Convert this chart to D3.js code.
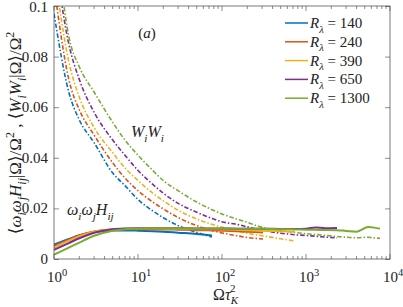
<!DOCTYPE html>
<html>
<head>
<meta charset="utf-8">
<script src="https://cdn.jsdelivr.net/npm/d3@7"></script>
<style>
  body { margin: 0; background: white; }
  svg { display: block; }
  text { font-family: "Liberation Serif", "Times New Roman", "DejaVu Serif", serif; fill: #222; }
</style>
</head>
<body>
<svg id="chart" width="403" height="307"></svg>
<script>

// Reynolds numbers shown in the legend
var rLambda = ['140', '240', '390', '650', '1300'];
var colors  = ['#0072BD', '#D95319', '#EDB120', '#7E2F8E', '#77AC30'];

// Omega tau_K^2 sample points, one array per R_lambda
var x140  = [1, 1.5, 2, 3, 5, 7, 10, 15, 20, 30, 50, 76];
var x240  = [1, 1.5, 2, 3, 5, 7, 10, 15, 20, 30, 50, 76, 100, 150, 200, 308];
var x390  = [1, 1.5, 2, 3, 5, 7, 10, 15, 20, 30, 50, 76, 100, 150, 200, 300, 500, 740];
var x650  = [1, 1.5, 2, 3, 5, 7, 10, 15, 20, 30, 50, 76, 100, 150, 200, 300, 500, 740, 1000, 1300, 1700, 2340];
var x1300 = [1, 1.5, 2, 3, 5, 7, 10, 15, 20, 30, 50, 76, 100, 150, 200, 300, 500, 740, 1000, 1500, 2340, 3000, 4000, 5500, 6500, 7600];

// <W_i W_i | Omega> / Omega^2  (dash-dot)
var wiwi140  = [0.097, 0.066, 0.055, 0.046, 0.034, 0.029, 0.0235, 0.019, 0.0163, 0.0132, 0.0105, 0.0087];
var wiwi240  = [0.108, 0.071, 0.059, 0.049, 0.038, 0.032, 0.027, 0.0225, 0.0198, 0.0164, 0.0132, 0.0113, 0.0103, 0.0092, 0.0085, 0.0079];
var wiwi390  = [0.115, 0.078, 0.064, 0.052, 0.042, 0.036, 0.031, 0.026, 0.023, 0.0193, 0.0158, 0.0137, 0.0125, 0.0111, 0.0102, 0.0092, 0.0080, 0.0071];
var wiwi650  = [0.122, 0.085, 0.071, 0.058, 0.047, 0.041, 0.035, 0.0295, 0.026, 0.022, 0.0185, 0.016, 0.0147, 0.0137, 0.0127, 0.0114, 0.0102, 0.0096, 0.0093, 0.0090, 0.0087, 0.0083];
var wiwi1300 = [0.135, 0.088, 0.076, 0.066, 0.054, 0.047, 0.041, 0.035, 0.031, 0.027, 0.0225, 0.0195, 0.0178, 0.0158, 0.0145, 0.0125, 0.0112, 0.0105, 0.0100, 0.0095, 0.0089, 0.0086, 0.0084, 0.0086, 0.0083, 0.0082];

// <omega_i omega_j H_ij | Omega> / Omega^2  (solid)
var hij140  = [0.0057, 0.0079, 0.0094, 0.0107, 0.0113, 0.0113, 0.0112, 0.0110, 0.0108, 0.0104, 0.0099, 0.0093];
var hij240  = [0.0050, 0.0076, 0.0093, 0.0109, 0.0117, 0.0118, 0.0118, 0.0117, 0.0117, 0.0116, 0.0114, 0.0113, 0.0112, 0.0110, 0.0108, 0.0105];
var hij390  = [0.0045, 0.0072, 0.0090, 0.0108, 0.0118, 0.0120, 0.0120, 0.0120, 0.0119, 0.0119, 0.0118, 0.0118, 0.0117, 0.0116, 0.0114, 0.0112, 0.0110, 0.0108];
var hij650  = [0.0036, 0.0063, 0.0082, 0.0104, 0.0118, 0.0121, 0.0122, 0.0122, 0.0122, 0.0122, 0.0121, 0.0121, 0.0121, 0.0120, 0.0120, 0.0120, 0.0119, 0.0119, 0.0120, 0.0125, 0.0122, 0.0123];
var hij1300 = [0.0017, 0.0045, 0.0065, 0.0092, 0.0112, 0.0118, 0.0121, 0.0122, 0.0122, 0.0122, 0.0121, 0.0121, 0.0121, 0.0120, 0.0120, 0.0120, 0.0118, 0.0117, 0.0116, 0.0115, 0.0114, 0.0111, 0.0108, 0.0126, 0.0124, 0.0120];

var yTicks = [0, 0.02, 0.04, 0.06, 0.08, 0.1];
var yTickLabels = ['0', '0.02', '0.04', '0.06', '0.08', '0.1'];
var xMajor = [1, 10, 100, 1000, 10000];

var xs    = [x140, x240, x390, x650, x1300];
var wiwis = [wiwi140, wiwi240, wiwi390, wiwi650, wiwi1300];
var hijs  = [hij140, hij240, hij390, hij650, hij1300];

var margin = {top: 6, right: 13, bottom: 48, left: 54};
var w = 403 - margin.left - margin.right;
var h = 307 - margin.top - margin.bottom;
var axisColor = '#404040';

var svg = d3.select('#chart')
    .append('g')
    .attr('transform', 'translate(' + margin.left + ',' + margin.top + ')');

var xScale = d3.scaleLog().domain([1, 10000]).range([0, w]);
var yScale = d3.scaleLinear().domain([0, 0.1]).range([h, 0]);

// write a little bit of math: italic letters, sub and superscripts
function addMath(sel, parts, size) {
    var cur = 0;
    parts.forEach(function(p) {
        var shift = p.s == -1 ? size * 0.3 : (p.s == 1 ? -size * 0.4 : 0);
        var ts = sel.append('tspan').attr('dy', shift - cur).text(p.t);
        cur = shift;
        if (p.i) ts.attr('font-style', 'italic');
        if (p.s) ts.attr('font-size', size * 0.7);
    });
}

svg.append('clipPath')
   .attr('id', 'plot-area')
   .append('rect')
   .attr('width', w)
   .attr('height', h);

// minor ticks for log axis
var xMinor = [];
for (var e = 0; e < 4; e++) {
    for (var k = 2; k < 10; k++) xMinor.push(k * Math.pow(10, e));
}

function drawXTicks(g, vals, len, dir) {
    g.selectAll(null)
     .data(vals)
     .enter().append('line')
     .attr('x1', function(d) { return xScale(d); })
     .attr('x2', function(d) { return xScale(d); })
     .attr('y1', 0)
     .attr('y2', dir * len)
     .attr('stroke', axisColor)
     .attr('stroke-width', 0.6);
}

var bottomTicks = svg.append('g').attr('transform', 'translate(0,' + h + ')');
drawXTicks(bottomTicks, xMajor, 5, -1);
drawXTicks(bottomTicks, xMinor, 3, -1);
var topTicks = svg.append('g');
drawXTicks(topTicks, xMajor, 5, 1);
drawXTicks(topTicks, xMinor, 3, 1);

// y axes, ticks pointing inward
var yAxisL = d3.axisLeft(yScale).tickValues(yTicks).tickSize(-5).tickFormat('');
var yAxisR = d3.axisRight(yScale).tickValues(yTicks).tickSize(-5).tickFormat('');
svg.append('g').attr('class', 'y axis').call(yAxisL);
svg.append('g').attr('class', 'y axis').attr('transform', 'translate(' + w + ',0)').call(yAxisR);
svg.selectAll('.y.axis .domain').remove();
svg.selectAll('.y.axis line').attr('stroke', axisColor).attr('stroke-width', 0.6);

// y tick labels
svg.append('g')
   .selectAll('text')
   .data(yTicks)
   .enter().append('text')
   .attr('x', -6)
   .attr('y', function(d) { return Math.max(yScale(d) + 5, 6); })
   .attr('text-anchor', 'end')
   .attr('font-size', '15px')
   .text(function(d, i) { return yTickLabels[i]; });

// x tick labels 10^n
svg.append('g')
   .selectAll('text')
   .data(xMajor)
   .enter().append('text')
   .attr('x', function(d) { return xScale(d) + 3; })
   .attr('y', h + 23)
   .attr('text-anchor', 'middle')
   .attr('font-size', '15px')
   .each(function(d) {
       addMath(d3.select(this), [{t: '10'}, {t: String(Math.round(Math.log10(d))), s: 1}], 15);
   });

// curves
var line = d3.line()
    .x(function(d) { return xScale(d[0]); })
    .y(function(d) { return yScale(d[1]); })
    .curve(d3.curveMonotoneX);

var curves = svg.append('g').attr('clip-path', 'url(#plot-area)');

rLambda.forEach(function(r, i) {
    var wPts = xs[i].map(function(x, j) { return [x, wiwis[i][j]]; });
    curves.append('path')
          .datum(wPts)
          .attr('d', line)
          .attr('fill', 'none')
          .attr('stroke', colors[i])
          .attr('stroke-width', 1.6)
          .attr('stroke-dasharray', '4.5,2,1.5,2');
});

rLambda.forEach(function(r, i) {
    var hPts = xs[i].map(function(x, j) { return [x, hijs[i][j]]; });
    curves.append('path')
          .datum(hPts)
          .attr('d', line)
          .attr('fill', 'none')
          .attr('stroke', colors[i])
          .attr('stroke-width', 2);
});

// frame
svg.append('rect')
   .attr('width', w)
   .attr('height', h)
   .attr('fill', 'none')
   .attr('stroke', axisColor)
   .attr('stroke-width', 0.7);

// legend
var legend = svg.append('g')
    .attr('transform', 'translate(' + (285 - margin.left) + ',' + (23 - margin.top) + ')');

rLambda.forEach(function(r, i) {
    var row = legend.append('g').attr('transform', 'translate(0,' + (i * 18.8) + ')');
    row.append('line')
       .attr('x1', 0).attr('x2', 23)
       .attr('stroke', colors[i])
       .attr('stroke-width', 1.5);
    var t = row.append('text')
       .attr('x', 25)
       .attr('y', 5)
       .attr('font-size', '15px');
    addMath(t, [{t: 'R', i: true}, {t: 'λ', i: true, s: -1}, {t: ' = ' + r}], 15);
});

// annotations
var aLab = svg.append('text')
   .attr('x', 147 - margin.left)
   .attr('y', 38 - margin.top)
   .attr('text-anchor', 'middle')
   .attr('font-size', '15px');
aLab.append('tspan').text('(');
aLab.append('tspan').attr('font-style', 'italic').text('a');
aLab.append('tspan').text(')');

var wLab = svg.append('text')
   .attr('x', 131 - margin.left)
   .attr('y', 137 - margin.top)
   .attr('font-size', '16px');
addMath(wLab, [{t: 'W', i: true}, {t: 'i', i: true, s: -1}, {t: 'W', i: true}, {t: 'i', i: true, s: -1}], 16);

var hLab = svg.append('text')
   .attr('x', 67 - margin.left)
   .attr('y', 215 - margin.top)
   .attr('font-size', '16px');
addMath(hLab, [{t: 'ω', i: true}, {t: 'i', i: true, s: -1}, {t: 'ω', i: true}, {t: 'j', i: true, s: -1},
               {t: 'H', i: true}, {t: 'ij', i: true, s: -1}], 16);

// x axis label: Omega tau_K^2
var xLab = svg.append('text')
   .attr('x', 213 - margin.left)
   .attr('y', h + 41)
   .attr('font-size', '16px');
xLab.append('tspan').text('Ω');
xLab.append('tspan').attr('font-style', 'italic').text('τ');
xLab.append('tspan').attr('font-style', 'italic').attr('font-size', 11).attr('dy', 4).text('K');
xLab.append('tspan').attr('font-size', 11).attr('dx', -8).attr('dy', -12).text('2');

// y axis label
var yLab = svg.append('text')
   .attr('transform', 'translate(' + (21 - margin.left) + ',' + (133 - margin.top) + ') rotate(-90)')
   .attr('text-anchor', 'middle')
   .attr('font-size', '17px');
addMath(yLab, [{t: '⟨'}, {t: 'ω', i: true}, {t: 'i', i: true, s: -1}, {t: 'ω', i: true}, {t: 'j', i: true, s: -1},
               {t: 'H', i: true}, {t: 'ij', i: true, s: -1}, {t: '|Ω⟩/Ω'}, {t: '2', s: 1},
               {t: ' ,  ⟨'}, {t: 'W', i: true}, {t: 'i', i: true, s: -1}, {t: 'W', i: true}, {t: 'i', i: true, s: -1},
               {t: '|Ω⟩/Ω'}, {t: '2', s: 1}], 17);

</script>
</body>
</html>
